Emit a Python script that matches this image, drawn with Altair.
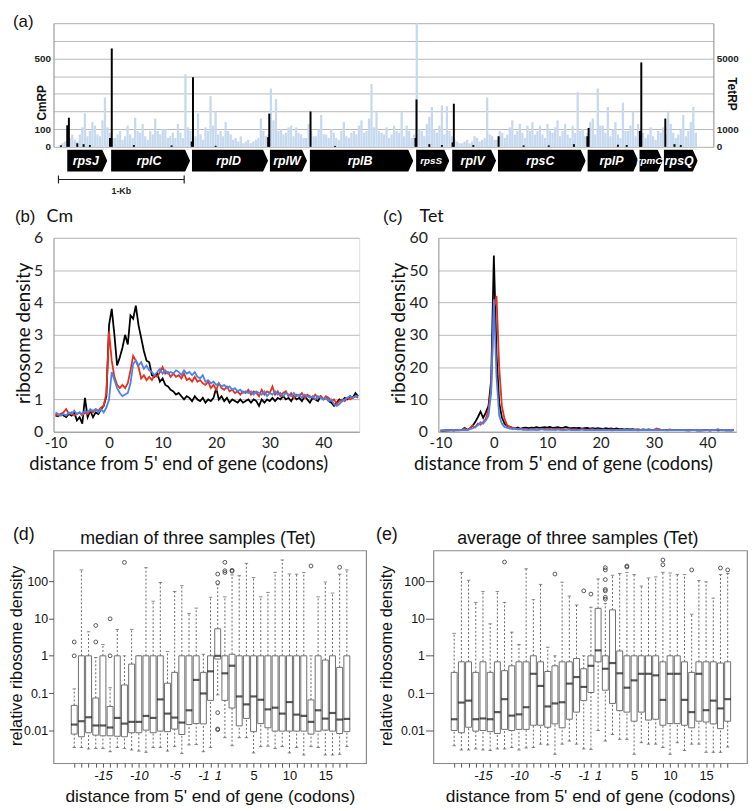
import altair as alt
import pandas as pd

# ======================= panel (a): S10 operon profile =======================
gene_names = ["rpsJ", "rplC", "rplD", "rplW", "rplB", "rpsS", "rplV", "rpsC", "rplP", "rpmC", "rpsQ"]
gene_start = [70, 419, 1062, 1682, 2000, 2845, 3132, 3496, 4209, 4620, 4814]
gene_end = [388, 1047, 1667, 1977, 2822, 3109, 3481, 4194, 4612, 4806, 5085]

# TetRP reads (right axis): two interleaved sets of 40-nt bins (starting at nt 10 and nt 30)
tet_rp_a = [100, 300, 500, 400, 700, 1900, 900, 1200, 600, 2800,
            800, 500, 900, 600, 700, 1650, 800, 600, 900, 1600,
            700, 1000, 600, 500, 800, 4100, 900, 600, 700, 1100,
            2870, 2000, 900, 1400, 700, 500, 600, 300, 200, 400,
            1600, 600, 3300, 2700, 1000, 800, 1200, 1100, 700, 500,
            900, 600, 1800, 700, 1000, 500, 900, 600, 800, 700,
            1500, 900, 3560, 2000, 800, 1100, 700, 900, 2000, 1200,
            500, 7000, 900, 1300, 2250, 800, 2350, 2300, 600, 300,
            200, 400, 300, 500, 400, 2800, 600, 400, 800, 700,
            1500, 900, 800, 1200, 1400, 900, 700, 1300, 800, 1500,
            900, 700, 1200, 3100, 1000, 800, 1600, 3300, 1200, 2250,
            1000, 700, 2500, 900, 2000, 1300, 800, 700, 600, 900,
            1100, 2000, 800, 700, 1800, 900, 2250]
tet_rp_b = [200, 400, 700, 300, 1100, 600, 1400, 700, 1500, 1100,
            500, 700, 400, 1200, 500, 900, 1300, 400, 700, 900,
            1000, 500, 800, 1300, 500, 1100, 500, 1900, 400, 900,
            1200, 700, 600, 900, 400, 300, 200, 400, 300, 500,
            900, 700, 1500, 900, 700, 1100, 600, 800, 500, 1300,
            600, 1000, 700, 500, 800, 400, 1400, 500, 900, 1200,
            800, 1600, 1100, 900, 700, 500, 1200, 800, 600, 900,
            700, 1000, 600, 1700, 1000, 1200, 700, 900, 400, 200,
            300, 200, 600, 300, 500, 700, 400, 900, 500, 1100,
            700, 1300, 500, 900, 700, 1200, 500, 900, 1100, 600,
            1300, 500, 800, 900, 600, 1400, 700, 1200, 800, 600,
            1400, 500, 900, 1200, 600, 900, 500, 1100, 400, 800,
            700, 1300, 500, 1000, 600, 1400, 800]
# CmRP reads (left axis)
cm_pos = [20, 70, 83, 150, 200, 250, 410, 424, 600, 900,
          1060, 1070, 1250, 1668, 1677, 2005, 2200, 2840, 2848, 2950,
          3050, 3135, 3145, 3300, 3501, 3700, 3900, 4100, 4207, 4217,
          4450, 4520, 4625, 4636, 4827, 4900, 4950]
cm_rp = [8, 122, 165, 20, 15, 10, 50, 557, 10, 8,
         30, 394, 6, 55, 188, 200, 5, 50, 268, 15,
         10, 25, 244, 10, 60, 8, 8, 15, 60, 107,
         12, 10, 90, 478, 160, 15, 10]
cm_ticks = [0, 100, 200, 300, 400, 500, 600, 700]
cm_labels = [0, 100, 500]
tet_labels = [0, 1000, 5000]
kb_bar = [0, 1000]

# ======================= panels (b), (c): metagene profiles =======================
# values every 0.5 codon starting at -10
b_black = [0.50, 0.48, 0.55, 0.50, 0.45, 0.55, 0.50, 0.60, 0.35, 0.45,
           0.25, 1.05, 0.45, 0.65, 0.45, 0.60, 0.55, 0.70, 0.80, 1.10,
           3.30, 3.80, 3.00, 2.05, 2.30, 2.60, 3.00, 2.70, 3.60, 3.50,
           3.90, 3.30, 2.90, 2.50, 2.20, 2.15, 1.75, 1.70, 1.80, 1.55,
           1.65, 1.45, 1.40, 1.30, 1.25, 1.15, 1.20, 1.10, 1.00, 1.10,
           1.05, 0.95, 1.10, 1.00, 0.95, 1.05, 0.90, 1.00, 0.95, 1.05,
           1.35, 1.00, 1.10, 0.95, 1.05, 0.90, 1.00, 0.95, 0.90, 1.00,
           0.90, 0.95, 1.00, 0.90, 1.00, 0.95, 0.80, 1.00, 0.90, 1.00,
           0.95, 1.05, 0.95, 1.05, 1.00, 1.10, 1.00, 1.05, 0.95, 1.10,
           1.00, 1.05, 0.95, 1.10, 1.00, 0.90, 1.05, 1.00, 0.95, 1.10,
           1.00, 1.05, 0.95, 0.90, 0.80, 0.90, 1.00, 0.95, 1.05, 1.00,
           1.10, 1.05, 1.20, 1.10]
b_red = [0.55, 0.50, 0.55, 0.60, 0.70, 0.55, 0.60, 0.50, 0.55, 0.60,
         0.50, 0.60, 0.55, 0.65, 0.60, 0.70, 0.65, 0.75, 0.80, 1.20,
         3.10, 2.20, 1.70, 1.45, 1.35, 1.45, 1.35, 1.50, 1.90, 2.35,
         2.20, 2.00, 1.65, 1.75, 1.60, 1.70, 1.60, 1.75, 1.70, 1.85,
         2.00, 1.80, 1.85, 1.70, 1.80, 1.70, 1.75, 1.65, 1.80, 1.60,
         1.65, 1.55, 1.70, 1.55, 1.60, 1.50, 1.45, 1.55, 1.35, 1.45,
         1.30, 1.50, 1.35, 1.30, 1.40, 1.25, 1.30, 1.20, 1.25, 1.15,
         1.25, 1.20, 1.30, 1.15, 1.25, 1.20, 1.10, 1.30, 1.15, 1.25,
         1.20, 1.40, 1.15, 1.25, 1.10, 1.20, 1.25, 1.10, 1.20, 1.05,
         1.15, 1.10, 1.20, 1.05, 1.15, 1.10, 1.05, 1.15, 1.05, 1.10,
         1.00, 1.10, 1.05, 0.95, 1.00, 0.85, 0.95, 1.00, 0.95, 1.05,
         1.00, 1.05, 1.10, 1.05]
b_blue = [0.60, 0.55, 0.50, 0.55, 0.50, 0.60, 0.55, 0.65, 0.55, 0.60,
          0.55, 0.65, 0.60, 0.70, 0.65, 0.70, 0.60, 0.70, 0.60, 0.75,
          1.00, 1.85, 1.60, 1.35, 1.20, 1.10, 1.15, 1.20, 1.50, 2.10,
          2.20, 2.05, 2.15, 1.95, 2.05, 1.90, 1.85, 1.75, 1.85, 1.95,
          1.80, 1.90, 1.80, 1.85, 1.80, 1.90, 1.85, 1.75, 1.90, 1.80,
          1.85, 1.75, 1.85, 1.70, 1.65, 1.75, 1.55, 1.60, 1.50, 1.55,
          1.45, 1.50, 1.40, 1.45, 1.35, 1.40, 1.30, 1.35, 1.25, 1.30,
          1.20, 1.25, 1.20, 1.25, 1.15, 1.25, 1.20, 1.15, 1.25, 1.10,
          1.20, 1.15, 1.25, 1.15, 1.20, 1.10, 1.20, 1.15, 1.10, 1.20,
          1.10, 1.15, 1.05, 1.15, 1.10, 1.05, 1.10, 1.00, 1.10, 1.05,
          1.00, 1.05, 0.95, 1.00, 0.85, 0.80, 0.85, 0.95, 1.00, 1.05,
          1.10, 1.05, 1.10, 1.10]
c_black = [0.4, 0.3, 0.5, 0.4, 0.5, 0.6, 0.5, 0.6, 0.5, 1.2,
           0.6, 1.0, 1.8, 3.0, 4.5, 6.2, 4.3, 6.0, 8.0, 16.0,
           54.5, 24.0, 9.0, 4.5, 2.5, 1.8, 1.5, 1.2, 1.0, 1.3,
           0.9, 1.2, 1.3, 1.1, 1.3, 1.2, 1.4, 1.2, 1.3, 1.4,
           1.3, 1.5, 1.2, 1.3, 1.4, 1.2, 1.3, 1.5, 1.2, 1.1,
           1.2, 1.1, 1.2, 1.0, 1.1, 1.2, 1.0, 1.1, 1.0, 1.1,
           1.0, 0.9, 1.1, 0.9, 1.0, 0.8, 1.0, 0.8, 0.9, 0.7,
           0.8, 0.7, 0.8, 0.6, 0.7, 0.6, 0.7, 0.6, 0.7, 0.6,
           0.6, 0.5, 0.7, 0.5, 0.6, 0.5, 0.6, 0.5, 0.6, 0.5,
           0.5, 0.6, 0.5, 0.4, 0.5, 0.6, 0.4, 0.5, 0.4, 0.5,
           0.5, 0.4, 0.5, 0.6, 0.4, 0.5, 0.6, 0.4, 0.5, 0.4,
           0.5]
c_red = [0.3, 0.4, 0.3, 0.5, 0.4, 0.3, 0.5, 0.4, 0.6, 1.0,
         0.5, 1.0, 2.0, 1.3, 2.5, 2.2, 3.0, 4.0, 7.0, 14.0,
         38.0, 42.0, 20.0, 8.0, 4.0, 2.0, 1.5, 1.2, 1.0, 0.9,
         0.8, 0.9, 0.8, 0.7, 0.9, 0.8, 0.7, 0.9, 0.8, 0.9,
         0.8, 0.9, 0.7, 0.8, 0.9, 0.7, 0.8, 0.7, 0.8, 0.7,
         0.8, 0.7, 0.6, 0.8, 0.7, 0.6, 0.7, 0.8, 0.6, 0.7,
         0.6, 0.7, 0.6, 0.5, 0.7, 0.6, 0.5, 0.6, 0.7, 0.5,
         0.6, 0.5, 0.6, 0.7, 0.5, 0.6, 0.5, 0.6, 0.5, 0.6,
         0.6, 1.0, 0.7, 0.5, 0.6, 0.5, 0.7, 0.5, 0.6, 0.5,
         0.6, 0.5, 0.4, 0.6, 0.5, 0.6, 0.5, 0.4, 0.5, 0.6,
         0.5, 0.4, 0.6, 0.5, 0.7, 0.5, 0.4, 0.5, 0.6, 0.5,
         0.5]
c_blue = [0.3, 0.4, 0.5, 0.4, 0.5, 0.6, 0.5, 0.6, 0.5, 0.6,
          0.5, 0.8, 1.0, 1.5, 2.0, 3.0, 2.5, 3.5, 5.0, 12.0,
          41.0, 17.0, 5.0, 2.5, 1.5, 1.2, 1.0, 0.8, 1.0, 0.7,
          0.8, 0.6, 0.7, 0.6, 0.7, 0.6, 0.7, 0.6, 0.8, 0.6,
          0.7, 0.6, 0.7, 0.5, 0.7, 0.6, 0.5, 0.6, 0.7, 0.5,
          0.6, 0.5, 0.6, 0.7, 0.5, 0.6, 0.5, 0.6, 0.5, 0.6,
          0.5, 0.6, 0.5, 0.6, 0.4, 0.5, 0.6, 0.5, 0.6, 0.5,
          0.6, 0.5, 0.6, 0.5, 0.4, 0.5, 0.6, 0.5, 0.6, 0.5,
          0.5, 0.6, 0.5, 0.6, 0.5, 0.4, 0.5, 0.6, 0.5, 0.6,
          0.5, 0.6, 0.5, 0.4, 0.5, 0.6, 0.5, 0.6, 0.5, 0.4,
          0.5, 0.6, 0.5, 0.6, 0.7, 0.5, 0.6, 0.5, 0.6, 0.5,
          0.6]
line_ticks = [-10, 0, 10, 20, 30, 40]

# ======================= panels (d), (e): box plots =======================
box_tick_idx = [4, 9, 14, 18, 20, 25, 30, 35]
box_tick_txt = ["-15", "-10", "-5", "-1", "1", "5", "10", "15"]
log_ticks = [0.01, 0.1, 1, 10, 100]

d_q1 = [0.0080, 0.0068, 0.0087, 0.0075, 0.0072, 0.0072, 0.0070, 0.0068, 0.0087, 0.0087,
        0.0102, 0.0087, 0.0096, 0.0093, 0.0109, 0.0078, 0.0144, 0.0153, 0.0150, 0.064,
        0.82, 0.064, 0.040, 0.0133, 0.021, 0.0093, 0.0153, 0.0118, 0.0096, 0.0096,
        0.0096, 0.0096, 0.0096, 0.0080, 0.0096, 0.0102, 0.0096, 0.0083, 0.0093]
d_med = [0.0144, 0.0177, 0.0226, 0.0136, 0.0136, 0.0120, 0.0217, 0.0153, 0.0170, 0.0170,
         0.0245, 0.0217, 0.068, 0.0283, 0.0221, 0.0163, 0.0347, 0.226, 0.098, 0.384,
         1.0, 0.34, 0.543, 0.0816, 0.050, 0.0816, 0.0665, 0.0368, 0.0408, 0.0283,
         0.0577, 0.0266, 0.0245, 0.0170, 0.0347, 0.0208, 0.0294, 0.0196, 0.0204]
d_q3 = [0.047, 1, 1, 0.074, 1, 0.044, 1, 0.166, 0.60, 1,
        1, 1, 1, 0.184, 0.36, 1, 1, 1, 0.36, 1,
        5.3, 1, 1.1, 1, 1, 1, 1, 1, 1, 1,
        1, 1, 1, 0.066, 1, 0.77, 1, 0.49, 1]
d_lo = [0.0035, 0.0035, 0.0032, 0.0033, 0.0033, 0.0027, 0.0035, 0.0033, 0.0030, 0.0028,
        0.0026, 0.0035, 0.0035, 0.0028, 0.0037, 0.0024, 0.0041, 0.0042, 0.0027, 0.0035,
        0.09, 0.0064, 0.0039, 0.0064, 0.0064, 0.0025, 0.0037, 0.0038, 0.0033, 0.0037,
        0.0025, 0.0035, 0.0022, 0.0037, 0.0035, 0.0022, 0.0022, 0.0023, 0.0037]
d_hi = [0.13, 200, 4.4, 0.9, 2.0, 0.14, 5.1, 1.0, 5.1, 1.0,
        230, 29, 92, 1.3, 53, 76, 13.5, 19, 1.1, 37,
        80, 38, 147, 140, 300, 125, 38, 50, 173, 370,
        156, 154, 170, 1.0, 38, 95, 48, 154, 200]
d_out_idx = [0, 0, 3, 3, 5, 5, 7, 20, 20, 20, 20, 20, 21, 21, 21, 22, 22, 33, 37]
d_out_val = [1.0, 2.35, 2.35, 6.5, 1.0, 9.8, 318, 92, 155, 0.03, 0.011, 0.0105, 320, 190, 170, 185, 195, 255, 235]

e_q1 = [0.0100, 0.0087, 0.0122, 0.0096, 0.0100, 0.0093, 0.0083, 0.0107, 0.0100, 0.0107,
        0.0107, 0.0138, 0.0138, 0.0122, 0.0150, 0.0118, 0.020, 0.031, 0.063, 0.104,
        0.69, 0.12, 0.053, 0.034, 0.031, 0.0177, 0.031, 0.019, 0.020, 0.0138,
        0.0153, 0.0153, 0.0138, 0.0118, 0.0177, 0.0168, 0.0150, 0.0112, 0.0177]
e_med = [0.020, 0.056, 0.063, 0.020, 0.021, 0.020, 0.031, 0.069, 0.025, 0.027,
         0.042, 0.33, 0.156, 0.044, 0.053, 0.057, 0.18, 0.27, 0.147, 0.54,
         1.4, 0.45, 0.64, 0.34, 0.14, 0.22, 0.33, 0.33, 0.30, 0.066,
         0.33, 0.33, 0.066, 0.031, 0.33, 0.035, 0.063, 0.039, 0.069]
e_q3 = [0.36, 0.69, 0.69, 0.36, 0.69, 0.36, 0.69, 0.40, 0.54, 0.69,
        0.69, 1.0, 0.69, 0.38, 0.54, 0.69, 0.69, 0.85, 0.45, 1.0,
        18.7, 1.0, 17.0, 1.35, 1.0, 1.0, 1.0, 1.0, 1.0, 0.69,
        1.0, 1.0, 0.69, 0.36, 0.69, 0.69, 0.69, 0.64, 0.69]
e_lo = [0.0039, 0.0030, 0.0030, 0.0032, 0.0030, 0.0029, 0.0032, 0.0032, 0.0035, 0.0030,
        0.0034, 0.0035, 0.0043, 0.0041, 0.0023, 0.0043, 0.0052, 0.0043, 0.0032, 0.0031,
        0.010, 0.0052, 0.0078, 0.0058, 0.0058, 0.0023, 0.0047, 0.0043, 0.0043, 0.0035,
        0.0023, 0.0047, 0.0029, 0.0043, 0.0043, 0.0026, 0.0026, 0.0026, 0.0036]
e_hi = [4.0, 172, 106, 27, 53, 7.2, 53, 27, 4.3, 2.0,
        215, 32, 82, 1.7, 1.0, 94, 40, 23, 1.0, 20,
        115, 25, 144, 160, 172, 150, 74, 122, 130, 172,
        165, 150, 150, 13, 104, 96, 35, 150, 160]
e_out_idx = [7, 14, 18, 19, 21, 21, 21, 21, 21, 21, 21, 24, 24, 29, 29, 33, 37, 38]
e_out_val = [325, 155, 55, 45, 33, 37, 55, 60, 110, 200, 230, 240, 255, 275, 370, 200, 225, 200]

# ======================= styles =======================
FA = "Liberation Sans"
FB = "Lato"
GRID = "#b8b8b8"
AXC = "#9a9a9a"


def text_at(txt, dx, dy, size=18, font=FA, align="left"):
    return alt.Chart(pd.DataFrame({"t": [txt]})).mark_text(
        align=align, baseline="middle", font=font, fontSize=size, color="#111"
    ).encode(text="t:N", x=alt.value(dx), y=alt.value(dy))


# ----------------------- (a) -----------------------
WA, HA = 667, 125
xa = alt.Scale(domain=[0, 5170], nice=False, zero=False)
tet_df = pd.DataFrame({
    "pos": [10 + 40 * i for i in range(len(tet_rp_a))] + [30 + 40 * i for i in range(len(tet_rp_b))],
    "tet": tet_rp_a + tet_rp_b})
cm_df = pd.DataFrame({"pos": cm_pos, "cm": cm_rp})
gene_df = pd.DataFrame({"gene": gene_names, "start": gene_start, "end": gene_end})
kb_df = pd.DataFrame({"start": [kb_bar[0]], "end": [kb_bar[1]], "label": ["1-Kb"]})
kb_ends = pd.DataFrame({"pos": kb_bar})

cm_expr = "indexof([" + ",".join(str(v) for v in cm_labels) + "], datum.value) >= 0 ? datum.label : ''"

blue = alt.Chart(tet_df).mark_bar(width=2.3, color="#c6d9ee").encode(
    x=alt.X("pos:Q", scale=xa, axis=None),
    y=alt.Y("tet:Q", scale=alt.Scale(domain=[0, 7000], nice=False),
            axis=alt.Axis(orient="right", values=tet_labels, format="d", grid=False, ticks=False,
                          domainColor=AXC, labelFont=FA, labelFontWeight="bold", labelFontSize=10,
                          labelColor="#222", labelPadding=3,
                          title="TetRP", titleFont=FA, titleFontSize=12, titleFontWeight="bold",
                          titleColor="#111", titleAngle=90, titleX=18, titleY=71,
                          titleAlign="center", titleBaseline="middle")),
)
black = alt.Chart(cm_df).mark_bar(width=2, color="black").encode(
    x=alt.X("pos:Q", scale=xa, axis=None),
    y=alt.Y("cm:Q", scale=alt.Scale(domain=[0, 700], nice=False),
            axis=alt.Axis(orient="left", values=cm_ticks, labelExpr=cm_expr, grid=True, gridColor=GRID,
                          ticks=False, domainColor=AXC, labelFont=FA, labelFontWeight="bold",
                          labelFontSize=10, labelColor="#222", labelPadding=3,
                          title="CmRP", titleFont=FA, titleFontSize=12, titleFontWeight="bold",
                          titleColor="#111", titleAngle=-90, titleX=-12, titleY=80,
                          titleAlign="center", titleBaseline="middle")),
)
gene_body = alt.Chart(gene_df).mark_bar(color="black").encode(
    x=alt.X("start:Q", scale=xa, axis=None), x2="end:Q",
    y=alt.value(128), y2=alt.value(150))
gene_tip = alt.Chart(gene_df).mark_point(
    filled=True, color="white", opacity=1, size=484, strokeWidth=0,
    shape="M-0.48,-1.06L0.1,-1.06L0.1,1.06L-0.48,1.06L0,0Z").encode(
    x=alt.X("end:Q", scale=xa, axis=None), y=alt.value(139))
gene_text = alt.Chart(gene_df).transform_calculate(
    mid="(datum.start + datum.end) / 2 - 12",
    small="(datum.gene == 'rpsS' || datum.gene == 'rpmC') ? 1 : 0",
).mark_text(color="white", font=FA, fontStyle="italic", fontWeight="bold", baseline="middle").encode(
    x=alt.X("mid:Q", scale=xa, axis=None), y=alt.value(139), text="gene:N",
    size=alt.condition(alt.datum.small == 1, alt.value(10), alt.value(12.5)))
kb_line = alt.Chart(kb_df).mark_rule(color="#222", strokeWidth=1.2).encode(
    x=alt.X("start:Q", scale=xa, axis=None), x2="end:Q", y=alt.value(158))
kb_cap = alt.Chart(kb_ends).mark_rule(color="#222", strokeWidth=1.2).encode(
    x=alt.X("pos:Q", scale=xa, axis=None), y=alt.value(154), y2=alt.value(162))
kb_text = alt.Chart(kb_df).transform_calculate(mid="(datum.start + datum.end) / 2").mark_text(
    font=FA, fontWeight="bold", fontSize=9, color="#222", baseline="middle").encode(
    x=alt.X("mid:Q", scale=xa, axis=None), y=alt.value(170), text="label:N")

panel_a = alt.layer(
    blue, black, gene_body, gene_tip, gene_text, kb_line, kb_cap, kb_text,
    text_at("(a)", -41, -1, 17),
).resolve_scale(y="independent").properties(width=WA, height=HA)


# ----------------------- (b), (c) -----------------------
def line_panel(blk, red, blu, xdom, ydom, ystep, w, let, name, let_dx, name_dx, ytitle_x):
    rows = []
    for s, arr in (("black", blk), ("red", red), ("blue", blu)):
        xs_s = [-10 + 0.5 * i for i in range(len(arr))]
        rows += [{"x": a, "y": b, "s": s} for a, b in zip(xs_s, arr)]
    df = pd.DataFrame(rows)
    yvals = list(range(0, ydom[1] + 1, ystep))
    lines = alt.Chart(df).mark_line(strokeWidth=1.8).encode(
        x=alt.X("x:Q", scale=alt.Scale(domain=xdom, nice=False, zero=False),
                axis=alt.Axis(values=line_ticks, labelExpr="'' + datum.value", grid=False, ticks=False,
                              domainColor=AXC, labelFont=FB, labelFontSize=15, labelColor="#222",
                              labelPadding=4,
                              title="distance from 5' end of gene (codons)", titleFont=FB,
                              titleFontSize=18.5, titleFontWeight="normal", titleColor="#111",
                              titleX=126, titleY=23, titleAlign="center", titleBaseline="top")),
        y=alt.Y("y:Q", scale=alt.Scale(domain=list(ydom), nice=False),
                axis=alt.Axis(values=yvals, grid=True, gridColor=GRID, ticks=False, domainColor=AXC,
                              labelFont=FB, labelFontSize=16, labelColor="#222", labelPadding=11,
                              title="ribosome density", titleFont=FB, titleFontSize=19,
                              titleFontWeight="normal", titleColor="#111", titleAngle=-90,
                              titleX=ytitle_x, titleY=96, titleAlign="center", titleBaseline="middle")),
        color=alt.Color("s:N", scale=alt.Scale(domain=["black", "red", "blue"],
                                               range=["#000000", "#e8301c", "#4c82e6"]), legend=None),
        detail="s:N",
    )
    return alt.layer(
        lines,
        text_at(let, let_dx, -21, 17),
        text_at(name, name_dx, -21, 18, FB),
    ).properties(width=w, height=196)


panel_b = line_panel(b_black, b_red, b_blue, [-10.37, 46.7], (0, 6), 1, 309, "(b)", "Cm", -39, -7, -30)
panel_c = line_panel(c_black, c_red, c_blue, [-10.4, 45.4], (0, 60), 10, 301, "(c)", "Tet", -56, -19, -40)


# ----------------------- (d), (e) -----------------------
lbl_expr = "".join(f"datum.value == {i} ? '{t}' : " for i, t in zip(box_tick_idx, box_tick_txt)) + "''"


def box_panel(q1, med, q3, lo, hi, oidx, oval, w, title, let, ldx, ytx, ytick):
    df = pd.DataFrame({"idx": list(range(len(med))), "q1": q1, "med": med, "q3": q3, "lo": lo, "hi": hi})
    odf = pd.DataFrame({"idx": oidx, "v": oval})
    xs = alt.Scale(domain=[-2.2, 40.0], nice=False, zero=False)
    ys = alt.Scale(type="log", domain=[0.00133, 664], nice=False)
    xax = alt.Axis(values=list(range(len(med))), labelExpr=lbl_expr,
                   labelFontStyle={"expr": "datum.value <= 20 ? 'italic' : 'normal'"},
                   domain=False, ticks=True, tickSize=4, tickColor="#555", tickWidth=1,
                   labelFont=FA, labelFontSize=13, labelColor="#111", labelPadding=3, labelAngle=0,
                   grid=False, title="distance from 5' end of gene (codons)", titleFont=FA,
                   titleFontSize=17.5, titleFontWeight="normal", titleColor="#111", titlePadding=5)
    yax = alt.Axis(values=log_ticks, format="~g", domain=False, ticks=True, tickSize=ytick,
                   tickColor="#555", grid=False, labelFont=FA, labelFontSize=12.5, labelColor="#111",
                   labelPadding=1, title="relative ribosome density", titleFont=FA, titleFontSize=16.5,
                   titleFontWeight="normal", titleColor="#111", titleAngle=-90, titleX=ytx, titleY=106,
                   titleAlign="center", titleBaseline="middle")
    X = alt.X("idx:Q", scale=xs, axis=xax)
    base = alt.Chart(df)
    w_lo = base.mark_rule(color="#555", strokeWidth=0.9, strokeDash=[2, 2]).encode(
        x=X, y=alt.Y("lo:Q", scale=ys, axis=yax), y2="q1:Q")
    w_hi = base.mark_rule(color="#555", strokeWidth=0.9, strokeDash=[2, 2]).encode(
        x=X, y=alt.Y("q3:Q", scale=ys, axis=yax), y2="hi:Q")
    c_lo = base.mark_tick(orient="horizontal", size=3.5, thickness=1, color="#555").encode(
        x=X, y=alt.Y("lo:Q", scale=ys, axis=yax))
    c_hi = base.mark_tick(orient="horizontal", size=3.5, thickness=1, color="#555").encode(
        x=X, y=alt.Y("hi:Q", scale=ys, axis=yax))
    box = base.mark_bar(width=6, fill="white", stroke="#6e6e6e", strokeWidth=1).encode(
        x=X, y=alt.Y("q1:Q", scale=ys, axis=yax), y2="q3:Q")
    mline = base.mark_tick(orient="horizontal", size=6.5, thickness=2.2, color="#111").encode(
        x=X, y=alt.Y("med:Q", scale=ys, axis=yax))
    outs = alt.Chart(odf).mark_point(shape="circle", size=15, filled=False, color="#444",
                                     strokeWidth=0.9, opacity=1).encode(
        x=X, y=alt.Y("v:Q", scale=ys, axis=yax))
    return alt.layer(
        w_lo, w_hi, c_lo, c_hi, box, mline, outs,
        text_at(let, ldx, -16, 18),
        text_at(title, 146, -12, 18, FA, "center"),
    ).properties(width=w, height=215,
                 view=alt.ViewBackground(stroke="#8a8a8a", strokeWidth=1.2))


panel_d = box_panel(d_q1, d_med, d_q3, d_lo, d_hi, d_out_idx, d_out_val, 316,
                    "median of three samples (Tet)", "(d)", -41, -37, 5)
panel_e = box_panel(e_q1, e_med, e_q3, e_lo, e_hi, e_out_idx, e_out_val, 317,
                    "average of three samples (Tet)", "(e)", -58, -47, 8)

row_bc = alt.hconcat(panel_b, panel_c, spacing=19)
row_de = alt.hconcat(panel_d, panel_e, spacing=8)

top = alt.vconcat(panel_a, row_bc, spacing=10)
chart = alt.vconcat(top, row_de, spacing=52).properties(
    padding={"left": 0, "top": 0, "right": 0, "bottom": 0}
).configure_view(stroke=None).configure(background="white", padding=0)

chart.save("out.html", embed_options={"renderer": "svg", "actions": False})
